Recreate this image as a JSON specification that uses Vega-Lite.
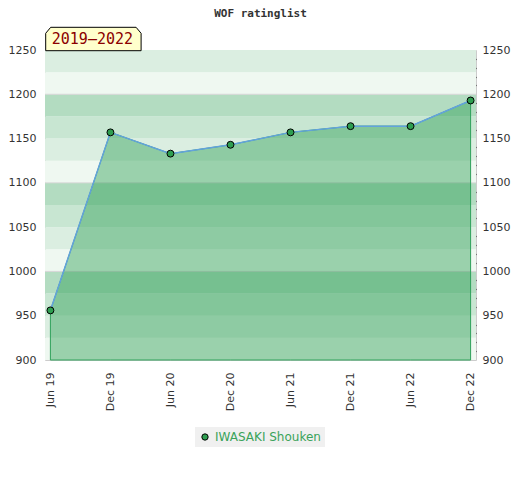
{
  "$schema": "https://vega.github.io/schema/vega-lite/v6.json",
  "autosize": "none",
  "width": 431,
  "height": 310,
  "padding": {"left": 45, "top": 50, "right": 44, "bottom": 120},
  "title": {
    "text": "WOF ratinglist",
    "font": "DejaVu Sans Mono",
    "fontSize": 11,
    "fontWeight": "bold",
    "color": "#333333",
    "anchor": "middle",
    "offset": 6
  },
  "config": {
    "view": {"stroke": "#cccccc"},
    "axis": {"labelFont": "DejaVu Sans", "labelFontSize": 11, "labelColor": "#333333"},
    "legend": {
      "orient": "none",
      "legendX": 150,
      "legendY": 377,
      "fillColor": "#f0f0f0",
      "padding": 4,
      "labelFont": "DejaVu Sans",
      "labelFontSize": 12,
      "labelColor": "#3aa35a",
      "symbolStrokeColor": "#000000",
      "symbolStrokeWidth": 1,
      "symbolSize": 40,
      "title": null
    }
  },
  "datasets": {
    "ratings": [
      {"period": "Jun 19", "rating": 956, "player": "IWASAKI Shouken"},
      {"period": "Dec 19", "rating": 1157, "player": "IWASAKI Shouken"},
      {"period": "Jun 20", "rating": 1133, "player": "IWASAKI Shouken"},
      {"period": "Dec 20", "rating": 1143, "player": "IWASAKI Shouken"},
      {"period": "Jun 21", "rating": 1157, "player": "IWASAKI Shouken"},
      {"period": "Dec 21", "rating": 1164, "player": "IWASAKI Shouken"},
      {"period": "Jun 22", "rating": 1164, "player": "IWASAKI Shouken"},
      {"period": "Dec 22", "rating": 1193, "player": "IWASAKI Shouken"}
    ],
    "bands": [
      {"lo": 900, "hi": 925, "tier": "a"},
      {"lo": 925, "hi": 950, "tier": "b"},
      {"lo": 950, "hi": 975, "tier": "c"},
      {"lo": 975, "hi": 1000, "tier": "d"},
      {"lo": 1000, "hi": 1025, "tier": "a"},
      {"lo": 1025, "hi": 1050, "tier": "b"},
      {"lo": 1050, "hi": 1075, "tier": "c"},
      {"lo": 1075, "hi": 1100, "tier": "d"},
      {"lo": 1100, "hi": 1125, "tier": "a"},
      {"lo": 1125, "hi": 1150, "tier": "b"},
      {"lo": 1150, "hi": 1175, "tier": "c"},
      {"lo": 1175, "hi": 1200, "tier": "d"},
      {"lo": 1200, "hi": 1225, "tier": "a"},
      {"lo": 1225, "hi": 1250, "tier": "b"}
    ],
    "grid": [{"v": 1000}, {"v": 1100}, {"v": 1200}],
    "badge": [{"label": "2019–2022"}]
  },
  "layer": [
    {
      "data": {"name": "bands"},
      "mark": {"type": "rect"},
      "encoding": {
        "y": {"field": "lo", "type": "quantitative", "scale": {"domain": [900, 1250], "nice": false, "zero": false}, "axis": null},
        "y2": {"field": "hi"},
        "fill": {
          "field": "tier",
          "type": "nominal",
          "scale": {"domain": ["a", "b", "c", "d"], "range": ["#eff8f1", "#dbeee1", "#c8e6d2", "#b3dcc1"]},
          "legend": null
        }
      }
    },
    {
      "data": {"name": "grid"},
      "mark": {"type": "rule", "color": "#d6d6d6", "strokeWidth": 1},
      "encoding": {
        "y": {"field": "v", "type": "quantitative", "axis": null}
      }
    },
    {
      "data": {"name": "ratings"},
      "mark": {"type": "area", "fill": "#1b9647", "fillOpacity": 0.4, "stroke": "#2ea05a", "strokeWidth": 1},
      "encoding": {
        "x": {
          "field": "period",
          "type": "nominal",
          "sort": null,
          "scale": {"type": "point", "padding": 0.09},
          "axis": {"title": null, "labelAngle": -90, "labelAlign": "right", "labelBaseline": "middle", "ticks": false, "domain": false, "labelPadding": 12}
        },
        "y": {
          "field": "rating",
          "type": "quantitative",
          "axis": {"orient": "left", "title": null, "format": "d", "values": [900, 950, 1000, 1050, 1100, 1150, 1200, 1250], "ticks": false, "domain": false, "grid": false, "labelPadding": 9}
        },
        "y2": {"datum": 900}
      }
    },
    {
      "data": {"name": "ratings"},
      "mark": {"type": "line", "color": "#63a2dd", "strokeWidth": 1.5},
      "encoding": {
        "x": {"field": "period", "type": "nominal", "sort": null},
        "y": {"field": "rating", "type": "quantitative", "axis": null}
      }
    },
    {
      "data": {"name": "ratings"},
      "mark": {"type": "point", "filled": true, "shape": "circle", "size": 48, "stroke": "#000000", "strokeWidth": 1, "opacity": 1},
      "encoding": {
        "x": {"field": "period", "type": "nominal", "sort": null},
        "y": {
          "field": "rating",
          "type": "quantitative",
          "axis": {
            "orient": "right",
            "title": null,
            "format": "d",
            "offset": -4,
            "values": [900, 910, 920, 930, 940, 950, 960, 970, 980, 990, 1000, 1010, 1020, 1030, 1040, 1050, 1060, 1070, 1080, 1090, 1100, 1110, 1120, 1130, 1140, 1150, 1160, 1170, 1180, 1190, 1200, 1210, 1220, 1230, 1240, 1250],
            "labelExpr": "datum.value % 50 == 0 ? datum.label : ''",
            "tickSize": 4,
            "tickColor": "#222222",
            "tickWidth": 1.2,
            "tickOpacity": {"expr": "datum.value % 50 == 0 ? 0 : 1"},
            "domain": false,
            "grid": false,
            "labelPadding": 6
          }
        },
        "color": {"field": "player", "type": "nominal", "scale": {"range": ["#2e9e50"]}}
      }
    },
    {
      "data": {"name": "badge"},
      "mark": {
        "type": "point",
        "shape": "M-0.094,0.014 L-0.094,-0.334 L0.006,-0.454 L1.714,-0.454 L1.814,-0.334 L1.814,0.014 Z",
        "size": 10000,
        "filled": true,
        "fill": "#ffffcc",
        "stroke": "#000000",
        "strokeWidth": 1,
        "opacity": 1
      },
      "encoding": {
        "x": {"datum": "Jun 19"},
        "y": {"datum": 1250, "axis": null}
      }
    },
    {
      "data": {"name": "badge"},
      "mark": {"type": "text", "font": "DejaVu Sans Mono", "fontSize": 15, "color": "#8b0000", "align": "center", "baseline": "middle", "dx": 42, "dy": -11},
      "encoding": {
        "x": {"datum": "Jun 19"},
        "y": {"datum": 1250, "axis": null},
        "text": {"field": "label"}
      }
    }
  ],
  "resolve": {"axis": {"y": "independent"}}
}
